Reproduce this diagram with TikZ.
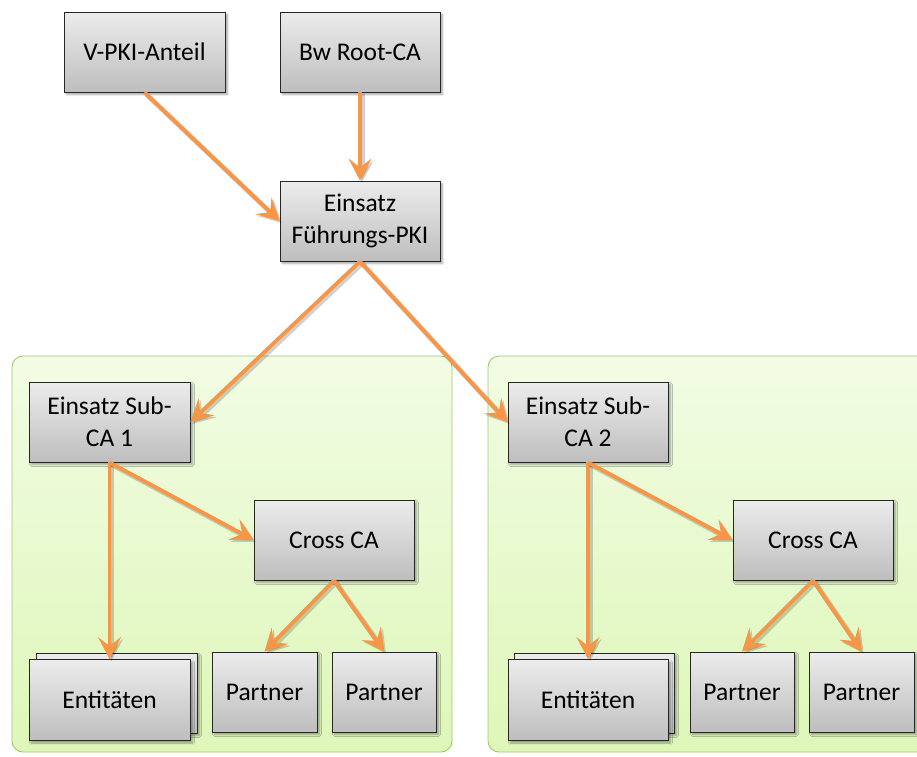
\documentclass[tikz,border=0pt]{standalone}
\usepackage{fontspec}
\setmainfont{Carlito}
\usetikzlibrary{arrows.meta,shadows.blur}
\definecolor{arrowc}{RGB}{247,150,70}
\definecolor{boxtop}{RGB}{236,236,236}
\definecolor{boxbot}{RGB}{190,190,190}
\definecolor{paneltop}{RGB}{242,252,228}
\definecolor{panelbot}{RGB}{222,247,184}
\definecolor{panelline}{RGB}{160,200,112}
\tikzset{
  box/.style={draw=black!85, line width=0.9pt, top color=boxtop, bottom color=boxbot,
    align=center, inner sep=2pt,
    font=\fontsize{25.5}{32}\selectfont,
    blur shadow={shadow xshift=2.5pt, shadow yshift=-2.5pt, shadow blur steps=6, shadow opacity=35}},
  panel/.style={draw=panelline, line width=0.9pt, rounded corners=11pt,
    top color=paneltop, bottom color=panelbot},
  link/.style={draw=arrowc, line width=3.8pt,
    -{Stealth[length=22pt,width=23pt,inset=9pt]},
    preaction={draw=black, opacity=0.18, line width=5pt,
      transform canvas={shift={(2pt,-2pt)}}}},
}
\begin{document}
\begin{tikzpicture}[x=1pt,y=-1pt]
\useasboundingbox (0,0) rectangle (917,756);
% background panels
\path[panel] (12,356) rectangle (452,752);
\path[panel] (488,356) rectangle (940,752);

% top of hierarchy
\node[box, minimum width=161pt, minimum height=80pt] (vpki) at (144.5,52) {V-PKI-Anteil};
\node[box, minimum width=160pt, minimum height=80pt] (root) at (360,52) {Bw Root-CA};
\node[box, minimum width=160pt, minimum height=80pt] (fpki) at (360,221) {Einsatz\\Führungs-PKI};

% left panel
\node[box, minimum width=161pt, minimum height=80pt] (sub1) at (109.5,422) {Einsatz Sub-\\CA 1};
\node[box, minimum width=160pt, minimum height=80pt] (cross1) at (334,540) {Cross CA};
\node[box, minimum width=161pt, minimum height=80pt] (ent1b) at (116.5,693) {};
\node[box, minimum width=161pt, minimum height=81pt] (ent1) at (109.5,700) {Entitäten};
\node[box, minimum width=105pt, minimum height=80pt] (p1a) at (264.5,692) {Partner};
\node[box, minimum width=104pt, minimum height=80pt] (p1b) at (384,692) {Partner};

% right panel
\node[box, minimum width=160pt, minimum height=80pt] (sub2) at (588,422) {Einsatz Sub-\\CA 2};
\node[box, minimum width=160pt, minimum height=80pt] (cross2) at (813,540) {Cross CA};
\node[box, minimum width=160pt, minimum height=80pt] (ent2b) at (594,693) {};
\node[box, minimum width=160pt, minimum height=81pt] (ent2) at (588,700) {Entitäten};
\node[box, minimum width=104pt, minimum height=80pt] (p2a) at (742,692) {Partner};
\node[box, minimum width=105pt, minimum height=80pt] (p2b) at (861.5,692) {Partner};

% connectors
\draw[link] (vpki.south) -- (fpki.west);
\draw[link] (root.south) -- (fpki.north);
\draw[link] (fpki.south) -- (sub1.east);
\draw[link] (fpki.south) -- (sub2.west);

\draw[link] (sub1.south) -- (ent1.north);
\draw[link] (sub1.south) -- (cross1.west);
\draw[link] (cross1.south) -- (p1a.north);
\draw[link] (cross1.south) -- (p1b.north);

\draw[link] (sub2.south) -- (ent2.north);
\draw[link] (sub2.south) -- (cross2.west);
\draw[link] (cross2.south) -- (p2a.north);
\draw[link] (cross2.south) -- (p2b.north);
\end{tikzpicture}
\end{document}
